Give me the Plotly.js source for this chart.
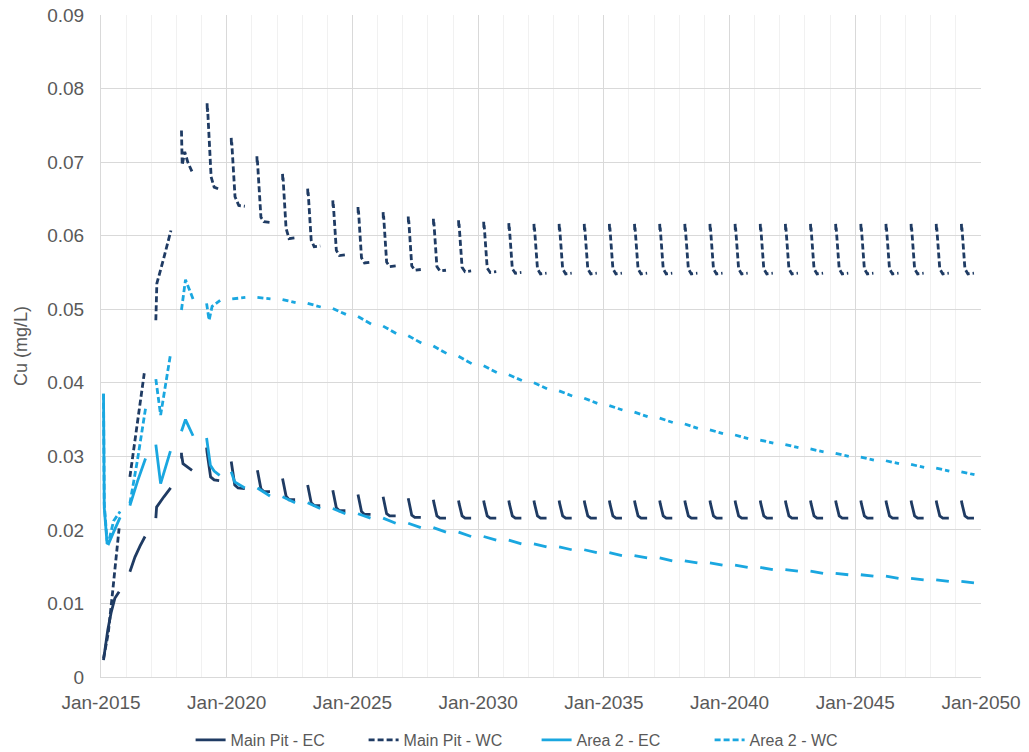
<!DOCTYPE html>
<html>
<head>
<meta charset="utf-8">
<script src="https://cdn.plot.ly/plotly-3.0.1.min.js"></script>
<style>
  html, body { margin: 0; padding: 0; background: #ffffff; }
  #chart { width: 1029px; height: 752px; }
</style>
</head>
<body>
<div id="chart"></div>
<script>
// ---- Data (time in decimal years, Cu in mg/L) ----
const seriesNames = ["Main Pit - EC", "Main Pit - WC", "Area 2 - EC", "Area 2 - WC"];
const xTickLabels = ["Jan-2015", "Jan-2020", "Jan-2025", "Jan-2030", "Jan-2035", "Jan-2040", "Jan-2045", "Jan-2050"];

const mainPitEC = [
  [[2015.10,.0023],[2015.27,.0064],[2015.40,.0087],[2015.55,.0107],[2015.72,.0116]],
  [[2016.15,.0143],[2016.35,.0163],[2016.55,.0178],[2016.75,.0191]],
  [[2017.18,.0216],[2017.21,.0231],[2017.50,.0245],[2017.77,.0257]],
  [[2018.20,.0305],[2018.205,.0297],[2018.21,.0301],[2018.26,.0290],[2018.40,.0286],[2018.62,.0281]],
  [[2019.20,.0312],[2019.22,.0305],[2019.36,.0272],[2019.50,.0268],[2019.70,.0267]],
  [[2020.18,.0293],[2020.32,.0261],[2020.45,.0257],[2020.72,.0256]],
  [[2021.22,.0281],[2021.24,.0277],[2021.36,.0256],[2021.48,.0252],[2021.72,.0252]],
  [[2022.22,.0270],[2022.24,.0266],[2022.36,.0246],[2022.48,.0241],[2022.72,.0241]],
  [[2023.22,.0261],[2023.24,.0257],[2023.36,.0237],[2023.48,.0233],[2023.72,.0233]],
  [[2024.22,.0254],[2024.24,.0250],[2024.36,.0230],[2024.48,.0226],[2024.72,.0226]],
  [[2025.22,.0248],[2025.24,.0244],[2025.36,.0225],[2025.48,.0221],[2025.72,.0221]],
  [[2026.22,.0245],[2026.24,.0241],[2026.36,.0222],[2026.48,.0219],[2026.72,.0219]],
  [[2027.22,.0243],[2027.24,.0239],[2027.36,.0220],[2027.48,.0217],[2027.72,.0217]],
  [[2028.22,.0241],[2028.24,.0237],[2028.36,.0219],[2028.48,.0216],[2028.72,.0216]],
  [[2029.22,.0240],[2029.24,.0236],[2029.36,.0219],[2029.48,.0216],[2029.72,.0216]],
  [[2030.22,.0240],[2030.24,.0236],[2030.36,.0219],[2030.48,.0216],[2030.72,.0216]],
  [[2031.22,.0240],[2031.24,.0236],[2031.36,.0219],[2031.48,.0216],[2031.72,.0216]],
  [[2032.22,.0240],[2032.24,.0236],[2032.36,.0219],[2032.48,.0216],[2032.72,.0216]],
  [[2033.22,.0240],[2033.24,.0236],[2033.36,.0219],[2033.48,.0216],[2033.72,.0216]],
  [[2034.22,.0240],[2034.24,.0236],[2034.36,.0219],[2034.48,.0216],[2034.72,.0216]],
  [[2035.22,.0240],[2035.24,.0236],[2035.36,.0219],[2035.48,.0216],[2035.72,.0216]],
  [[2036.22,.0240],[2036.24,.0236],[2036.36,.0219],[2036.48,.0216],[2036.72,.0216]],
  [[2037.22,.0240],[2037.24,.0236],[2037.36,.0219],[2037.48,.0216],[2037.72,.0216]],
  [[2038.22,.0240],[2038.24,.0236],[2038.36,.0219],[2038.48,.0216],[2038.72,.0216]],
  [[2039.22,.0240],[2039.24,.0236],[2039.36,.0219],[2039.48,.0216],[2039.72,.0216]],
  [[2040.22,.0240],[2040.24,.0236],[2040.36,.0219],[2040.48,.0216],[2040.72,.0216]],
  [[2041.22,.0240],[2041.24,.0236],[2041.36,.0219],[2041.48,.0216],[2041.72,.0216]],
  [[2042.22,.0240],[2042.24,.0236],[2042.36,.0219],[2042.48,.0216],[2042.72,.0216]],
  [[2043.22,.0240],[2043.24,.0236],[2043.36,.0219],[2043.48,.0216],[2043.72,.0216]],
  [[2044.22,.0240],[2044.24,.0236],[2044.36,.0219],[2044.48,.0216],[2044.72,.0216]],
  [[2045.22,.0240],[2045.24,.0236],[2045.36,.0219],[2045.48,.0216],[2045.72,.0216]],
  [[2046.22,.0240],[2046.24,.0236],[2046.36,.0219],[2046.48,.0216],[2046.72,.0216]],
  [[2047.22,.0240],[2047.24,.0236],[2047.36,.0219],[2047.48,.0216],[2047.72,.0216]],
  [[2048.22,.0240],[2048.24,.0236],[2048.36,.0219],[2048.48,.0216],[2048.72,.0216]],
  [[2049.22,.0240],[2049.24,.0236],[2049.36,.0219],[2049.48,.0216],[2049.72,.0216]]
];

const mainPitWC = [
  [[2015.10,.0025],[2015.29,.0060],[2015.43,.0105],[2015.56,.0150],[2015.72,.0202]],
  [[2016.15,.0272],[2016.35,.0322],[2016.55,.0372],[2016.72,.0413]],
  [[2017.18,.0485],[2017.22,.0535],[2017.50,.0570],[2017.78,.0607]],
  [[2018.20,.0743],[2018.205,.0728],[2018.21,.0735],[2018.22,.0712],[2018.23,.0696],[2018.33,.0714],[2018.45,.0700],[2018.62,.0687]],
  [[2019.22,.0780],[2019.23,.0768],[2019.24,.0773],[2019.38,.0680],[2019.50,.0666],[2019.72,.0663]],
  [[2020.18,.0733],[2020.19,.0722],[2020.20,.0727],[2020.33,.0653],[2020.48,.0641],[2020.72,.0640]],
  [[2021.20,.0708],[2021.21,.0698],[2021.22,.0702],[2021.36,.0625],[2021.48,.0619],[2021.72,.0618]],
  [[2022.22,.0684],[2022.23,.0674],[2022.24,.0679],[2022.36,.0610],[2022.48,.0596],[2022.72,.0597]],
  [[2023.22,.0664],[2023.23,.0654],[2023.24,.0659],[2023.36,.0594],[2023.48,.0585],[2023.72,.0586]],
  [[2024.22,.0648],[2024.23,.0638],[2024.24,.0643],[2024.36,.0580],[2024.48,.0573],[2024.72,.0574]],
  [[2025.22,.0639],[2025.23,.0629],[2025.24,.0634],[2025.36,.0570],[2025.48,.0563],[2025.72,.0564]],
  [[2026.22,.0632],[2026.23,.0622],[2026.24,.0627],[2026.36,.0564],[2026.48,.0558],[2026.72,.0559]],
  [[2027.22,.0626],[2027.23,.0616],[2027.24,.0621],[2027.36,.0559],[2027.48,.0553],[2027.72,.0554]],
  [[2028.22,.0623],[2028.23,.0613],[2028.24,.0618],[2028.36,.0558],[2028.48,.0552],[2028.72,.0553]],
  [[2029.22,.0621],[2029.23,.0611],[2029.24,.0616],[2029.36,.0557],[2029.48,.0551],[2029.72,.0552]],
  [[2030.22,.0619],[2030.23,.0609],[2030.24,.0614],[2030.36,.0556],[2030.48,.0550],[2030.72,.0551]],
  [[2031.22,.0617],[2031.23,.0607],[2031.24,.0612],[2031.36,.0555],[2031.48,.0549],[2031.72,.0550]],
  [[2032.22,.0616],[2032.23,.0606],[2032.24,.0611],[2032.36,.0555],[2032.48,.0548],[2032.72,.0549]],
  [[2033.22,.0616],[2033.23,.0606],[2033.24,.0611],[2033.36,.0555],[2033.48,.0548],[2033.72,.0549]],
  [[2034.22,.0616],[2034.23,.0606],[2034.24,.0611],[2034.36,.0555],[2034.48,.0548],[2034.72,.0549]],
  [[2035.22,.0616],[2035.23,.0606],[2035.24,.0611],[2035.36,.0555],[2035.48,.0548],[2035.72,.0549]],
  [[2036.22,.0616],[2036.23,.0606],[2036.24,.0611],[2036.36,.0555],[2036.48,.0548],[2036.72,.0549]],
  [[2037.22,.0616],[2037.23,.0606],[2037.24,.0611],[2037.36,.0555],[2037.48,.0548],[2037.72,.0549]],
  [[2038.22,.0616],[2038.23,.0606],[2038.24,.0611],[2038.36,.0555],[2038.48,.0548],[2038.72,.0549]],
  [[2039.22,.0616],[2039.23,.0606],[2039.24,.0611],[2039.36,.0555],[2039.48,.0548],[2039.72,.0549]],
  [[2040.22,.0616],[2040.23,.0606],[2040.24,.0611],[2040.36,.0555],[2040.48,.0548],[2040.72,.0549]],
  [[2041.22,.0616],[2041.23,.0606],[2041.24,.0611],[2041.36,.0555],[2041.48,.0548],[2041.72,.0549]],
  [[2042.22,.0616],[2042.23,.0606],[2042.24,.0611],[2042.36,.0555],[2042.48,.0548],[2042.72,.0549]],
  [[2043.22,.0616],[2043.23,.0606],[2043.24,.0611],[2043.36,.0555],[2043.48,.0548],[2043.72,.0549]],
  [[2044.22,.0616],[2044.23,.0606],[2044.24,.0611],[2044.36,.0555],[2044.48,.0548],[2044.72,.0549]],
  [[2045.22,.0616],[2045.23,.0606],[2045.24,.0611],[2045.36,.0555],[2045.48,.0548],[2045.72,.0549]],
  [[2046.22,.0616],[2046.23,.0606],[2046.24,.0611],[2046.36,.0555],[2046.48,.0548],[2046.72,.0549]],
  [[2047.22,.0616],[2047.23,.0606],[2047.24,.0611],[2047.36,.0555],[2047.48,.0548],[2047.72,.0549]],
  [[2048.22,.0616],[2048.23,.0606],[2048.24,.0611],[2048.36,.0555],[2048.48,.0548],[2048.72,.0549]],
  [[2049.22,.0616],[2049.23,.0606],[2049.24,.0611],[2049.36,.0555],[2049.48,.0548],[2049.72,.0549]]
];

const area2EC = [
  [[2015.10,.0385],[2015.13,.0230],[2015.24,.0182],[2015.30,.0181],[2015.50,.0197],[2015.76,.0217]],
  [[2016.15,.0233],[2016.45,.0266],[2016.77,.0297]],
  [[2017.18,.0316],[2017.37,.0263],[2017.76,.0307]],
  [[2018.20,.0334],[2018.36,.0350],[2018.66,.0328]],
  [[2019.20,.0325],[2019.35,.0288],[2019.50,.0280],[2019.72,.0274]],
  [[2020.18,.0279],[2020.32,.0265],[2020.72,.0257]],
  [[2021.22,.0257],[2021.72,.0246]],
  [[2022.22,.0245],[2022.72,.0237]],
  [[2023.22,.0237],[2023.72,.0229]],
  [[2024.22,.0229],[2024.72,.0222]],
  [[2025.22,.0222],[2025.72,.0216]],
  [[2026.22,.0216],[2026.72,.0209]],
  [[2027.22,.0209],[2027.72,.0203]],
  [[2028.22,.0203],[2028.72,.0197]],
  [[2029.22,.0197],[2029.72,.0191]],
  [[2030.22,.0191],[2030.72,.0186]],
  [[2031.22,.0186],[2031.72,.0181]],
  [[2032.22,.0181],[2032.72,.0177]],
  [[2033.22,.0177],[2033.72,.0173]],
  [[2034.22,.0173],[2034.72,.0169]],
  [[2035.22,.0169],[2035.72,.0165]],
  [[2036.22,.0165],[2036.72,.0162]],
  [[2037.22,.0162],[2037.72,.0158]],
  [[2038.22,.0158],[2038.72,.0155]],
  [[2039.22,.0155],[2039.72,.0152]],
  [[2040.22,.0152],[2040.72,.0149]],
  [[2041.22,.0149],[2041.72,.0146]],
  [[2042.22,.0146],[2042.72,.0144]],
  [[2043.22,.0144],[2043.72,.0141]],
  [[2044.22,.0141],[2044.72,.0139]],
  [[2045.22,.0139],[2045.72,.0137]],
  [[2046.22,.0137],[2046.72,.0134]],
  [[2047.22,.0134],[2047.72,.0132]],
  [[2048.22,.0132],[2048.72,.0130]],
  [[2049.22,.0130],[2049.72,.0128]]
];

const area2WC = [
  [[2015.10,.0385],[2015.13,.0235],[2015.24,.0186],[2015.30,.0183],[2015.50,.0212],[2015.76,.0225]],
  [[2016.15,.0236],[2016.45,.0295],[2016.77,.0365]],
  [[2017.18,.0405],[2017.37,.0356],[2017.76,.0438]],
  [[2018.20,.0499],[2018.36,.0540],[2018.66,.0514]],
  [[2019.20,.0508],[2019.30,.0485],[2019.42,.0504],[2019.74,.0512]],
  [[2020.22,.0514],[2020.74,.0516]],
  [[2021.22,.0516],[2021.74,.0514]],
  [[2022.22,.0513],[2022.74,.0509]],
  [[2023.22,.0508],[2023.74,.0503]],
  [[2024.22,.0501],[2024.74,.0493]],
  [[2025.22,.0490],[2025.74,.0480]],
  [[2026.22,.0477],[2026.74,.0467]],
  [[2027.22,.0464],[2027.74,.0454]],
  [[2028.22,.0450],[2028.74,.0440]],
  [[2029.22,.0436],[2029.74,.0426]],
  [[2030.22,.0423],[2030.74,.0414]],
  [[2031.22,.0411],[2031.74,.0403]],
  [[2032.22,.0400],[2032.74,.0392]],
  [[2033.22,.0389],[2033.74,.0382]],
  [[2034.22,.0379],[2034.74,.0372]],
  [[2035.22,.0369],[2035.74,.0363]],
  [[2036.22,.0360],[2036.74,.0354]],
  [[2037.22,.0352],[2037.74,.0346]],
  [[2038.22,.0344],[2038.74,.0338]],
  [[2039.22,.0336],[2039.74,.0331]],
  [[2040.22,.0329],[2040.74,.0324]],
  [[2041.22,.0322],[2041.74,.0318]],
  [[2042.22,.0316],[2042.74,.0312]],
  [[2043.22,.0310],[2043.74,.0306]],
  [[2044.22,.0304],[2044.74,.0300]],
  [[2045.22,.0299],[2045.74,.0295]],
  [[2046.22,.0294],[2046.74,.0290]],
  [[2047.22,.0289],[2047.74,.0285]],
  [[2048.22,.0284],[2048.74,.0280]],
  [[2049.22,.0279],[2049.74,.0275]]
];

// ---- helpers ----
function yearToDate(t) {
  const y = Math.floor(t);
  const s = Date.UTC(y, 0, 1), e = Date.UTC(y + 1, 0, 1);
  return new Date(s + (t - y) * (e - s)).toISOString().replace('T', ' ').replace('Z', '');
}
function buildXY(segs) {
  const x = [], y = [];
  segs.forEach((seg, i) => {
    if (i > 0) { x.push(yearToDate(segs[i - 1][segs[i - 1].length - 1][0] + 0.01)); y.push(null); }
    seg.forEach(p => { x.push(yearToDate(p[0])); y.push(p[1]); });
  });
  return { x, y };
}

const DARK = '#1f3b63';
const LIGHT = '#1aa7e0';
const FONT = 'Liberation Sans, Arial, sans-serif';
const GREY = '#595959';

const styles = [
  { color: DARK, dash: 'solid' },
  { color: DARK, dash: '6px,3px' },
  { color: LIGHT, dash: 'solid' },
  { color: LIGHT, dash: '6px,3px' }
];
const allSeries = [mainPitEC, mainPitWC, area2EC, area2WC];

const traces = allSeries.map((s, i) => {
  const d = buildXY(s);
  return {
    type: 'scatter', mode: 'lines', name: seriesNames[i],
    x: d.x, y: d.y, connectgaps: false,
    line: { color: styles[i].color, width: 2.8, dash: styles[i].dash },
    hoverinfo: 'skip'
  };
});

const tickVals = xTickLabels.map((_, i) => yearToDate(2015 + 5 * i));

const layout = {
  width: 1029, height: 752,
  margin: { l: 101, r: 48, t: 15, b: 75, autoexpand: false },
  paper_bgcolor: '#ffffff', plot_bgcolor: '#ffffff',
  font: { family: FONT, color: GREY, size: 18 },
  showlegend: true,
  legend: {
    orientation: 'h', x: 0.495, xanchor: 'center',
    yref: 'container', y: 0.016, yanchor: 'middle',
    font: { family: FONT, size: 16, color: GREY }, traceorder: 'normal',
    entrywidth: 128, entrywidthmode: 'pixels'
  },
  xaxis: {
    type: 'date',
    range: [yearToDate(2015), yearToDate(2050)],
    tickmode: 'array', tickvals: tickVals, ticktext: xTickLabels,
    showgrid: true, gridcolor: '#d9d9d9', gridwidth: 1,
    minor: { dtick: 'M12', tick0: '2015-01-01', showgrid: true, gridcolor: '#f1f1f1', gridwidth: 1, ticks: '' },
    showline: true, linecolor: '#d9d9d9', linewidth: 1,
    ticks: '', zeroline: false,
    tickfont: { family: FONT, size: 19, color: GREY },
    ticklabelstandoff: 8
  },
  yaxis: {
    range: [0, 0.09], dtick: 0.01, tick0: 0,
    showgrid: true, gridcolor: '#d9d9d9', gridwidth: 1,
    showline: true, linecolor: '#d9d9d9', linewidth: 1,
    ticks: '', zeroline: false,
    tickfont: { family: FONT, size: 19, color: GREY },
    ticklabelstandoff: 12,
    title: { text: 'Cu (mg/L)', font: { family: FONT, size: 18, color: GREY }, standoff: 14 }
  }
};

Plotly.newPlot('chart', traces, layout, { displayModeBar: false, staticPlot: true });
</script>
</body>
</html>
